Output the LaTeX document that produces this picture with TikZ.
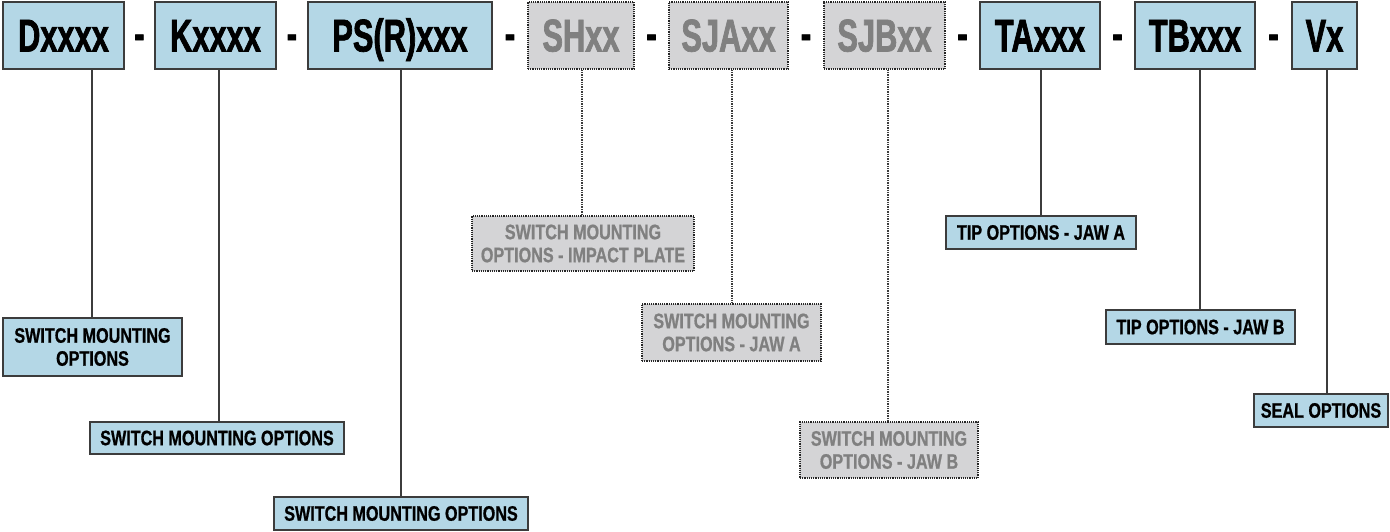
\documentclass[tikz,border=0pt]{standalone}
\usepackage{fontspec}
\setmainfont{Liberation Sans}
\newfontfamily\codefont[FakeStretch=0.67, FakeBold=1.5]{Liberation Sans Bold}
\newfontfamily\optfont[FakeStretch=0.77, FakeBold=0.8]{Liberation Sans Bold}
\usetikzlibrary{positioning}

\definecolor{partblue}{RGB}{180,215,230}
\definecolor{optgray}{RGB}{212,212,214}
\definecolor{optgraytext}{RGB}{128,128,128}
\definecolor{linegray}{RGB}{60,60,60}

\begin{document}
\begin{tikzpicture}[
		x=1pt, y=-1pt,
		every node/.style={font=\optfont},
		code/.style={
			rectangle,
			draw=linegray,
			line width=1.2pt,
			fill=partblue,
			inner sep=0pt,
			minimum height=67pt,
			text height=32pt,
			text depth=0pt,
			font=\codefont\fontsize{46}{46}\selectfont
		},
		codegray/.style={
			code,
			draw=black!85,
			densely dotted,
			fill=optgray,
			text=optgraytext
		},
		sep/.style={
			inner sep=0pt,
			font=\codefont\fontsize{46}{46}\selectfont
		},
		opt/.style={
			rectangle,
			draw=linegray,
			line width=1.2pt,
			fill=partblue,
			align=center,
			inner sep=0pt,
			font=\optfont\fontsize{21}{23}\selectfont
		},
		optgray/.style={
			opt,
			draw=black!85,
			densely dotted,
			fill=optgray,
			text=optgraytext
		},
		conn/.style={
			linegray,
			line width=1.4pt
		},
		conngray/.style={
			conn,
			densely dotted
		}
		]
		
		\useasboundingbox (0,0) rectangle (1390,531);
		
		% Part number
		\node[code, minimum width=121pt] (D) at (63.5,35.5) {Dxxxx};
		\node[code, minimum width=121pt] (K) at (215.5,35.5) {Kxxxx};
		\node[code, minimum width=184pt] (PS) at (400,35.5) {PS(R)xxx};
		\node[codegray, minimum width=106pt] (SH) at (581,35.5) {SHxx};
		\node[codegray, minimum width=119pt] (SJA) at (728.5,35.5) {SJAxx};
		\node[codegray, minimum width=121pt] (SJB) at (884.5,35.5) {SJBxx};
		\node[code, minimum width=120pt] (TA) at (1040,35.5) {TAxxx};
		\node[code, minimum width=120pt] (TB) at (1195,35.5) {TBxxx};
		\node[code, minimum width=65pt] (V) at (1324.5,35.5) {Vx};
		
		% Separators
		\node[sep] (s1) at (139.5,42) {-};
		\node[sep] (s2) at (292,42) {-};
		\node[sep] (s3) at (510,42) {-};
		\node[sep] (s4) at (651.5,42) {-};
		\node[sep] (s5) at (806,42) {-};
		\node[sep] (s6) at (962.5,42) {-};
		\node[sep] (s7) at (1117.5,42) {-};
		\node[sep] (s8) at (1273.5,42) {-};
		
		% Options
		\node[opt, minimum width=179pt, minimum height=58pt] (Dopt) at (92.5,347) {SWITCH MOUNTING\\OPTIONS};
		\node[opt, minimum width=254pt, minimum height=32pt] (Kopt) at (217,438) {SWITCH MOUNTING OPTIONS};
		\node[opt, minimum width=254pt, minimum height=33pt] (PSopt) at (401,513.5) {SWITCH MOUNTING OPTIONS};
		\node[optgray, minimum width=222pt, minimum height=55pt] (SHopt) at (583,243.5) {SWITCH MOUNTING\\OPTIONS - IMPACT PLATE};
		\node[optgray, minimum width=179pt, minimum height=57pt] (SJAopt) at (731.5,332.5) {SWITCH MOUNTING\\OPTIONS - JAW A};
		\node[optgray, minimum width=178pt, minimum height=56pt] (SJBopt) at (889,450) {SWITCH MOUNTING\\OPTIONS - JAW B};
		\node[opt, minimum width=190pt, minimum height=33pt] (TAopt) at (1041,232.5) {TIP OPTIONS - JAW A};
		\node[opt, minimum width=189pt, minimum height=34pt] (TBopt) at (1200.5,327) {TIP OPTIONS - JAW B};
		\node[opt, minimum width=134pt, minimum height=33pt] (Vopt) at (1321,410.5) {SEAL OPTIONS};
		
		% Leaders
		\draw[conn] ([xshift=-0.5pt]D.south -| Dopt.north) -- ([xshift=-0.5pt]Dopt.north);
		\draw[conn] ([xshift=2pt]K.south -| Kopt.north) -- ([xshift=2pt]Kopt.north);
		\draw[conn] (PS.south -| PSopt.north) -- (PSopt.north);
		\draw[conngray] ([xshift=-1pt]SH.south -| SHopt.north) -- ([xshift=-1pt]SHopt.north);
		\draw[conngray] ([xshift=0.5pt]SJA.south -| SJAopt.north) -- ([xshift=0.5pt]SJAopt.north);
		\draw[conngray] ([xshift=-1pt]SJB.south -| SJBopt.north) -- ([xshift=-1pt]SJBopt.north);
		\draw[conn] (TA.south -| TAopt.north) -- (TAopt.north);
		\draw[conn] ([xshift=-0.5pt]TB.south -| TBopt.north) -- ([xshift=-0.5pt]TBopt.north);
		\draw[conn] ([xshift=6pt]V.south -| Vopt.north) -- ([xshift=6pt]Vopt.north);
	\end{tikzpicture}
\end{document}
